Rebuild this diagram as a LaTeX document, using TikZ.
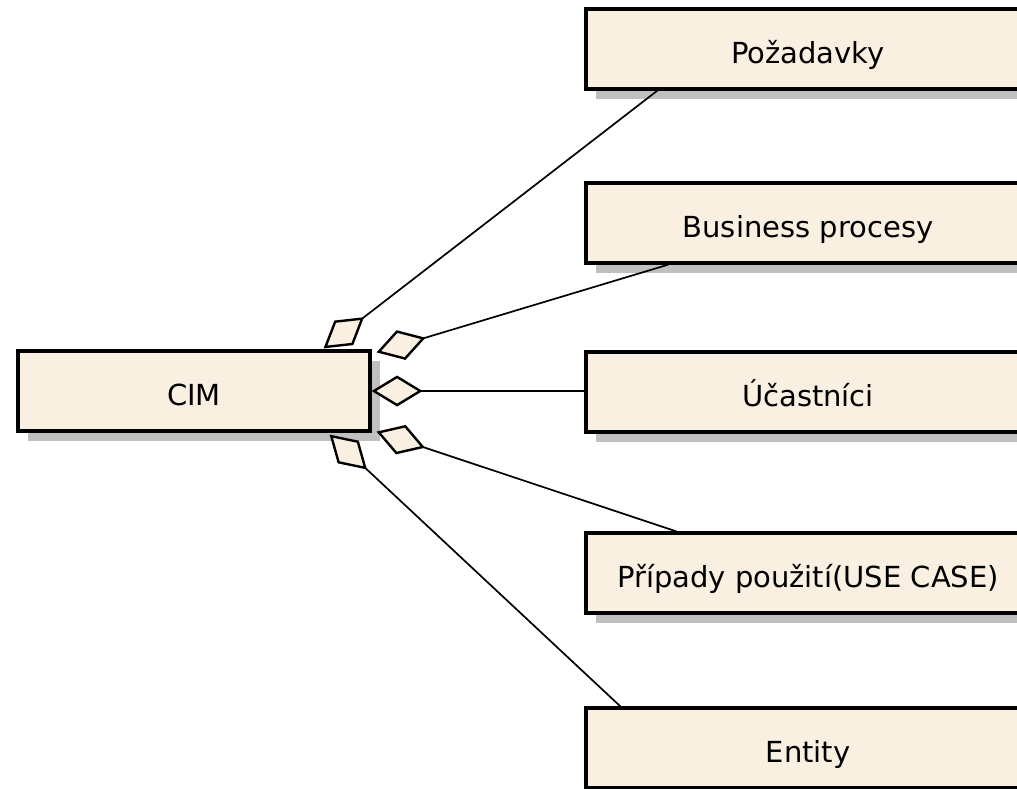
\documentclass[tikz,border=0pt]{standalone}
\usepackage{fontspec}
\setmainfont{DejaVu Sans}
\usetikzlibrary{arrows.meta,calc,shadows}
\definecolor{cream}{RGB}{250,240,226}
\definecolor{shadowgray}{RGB}{192,192,192}
\tikzset{
  classbox/.style={rectangle, draw=black, line width=3.2pt, fill=cream,
    inner sep=0pt, minimum height=80pt, text height=29pt, text depth=0pt,
    general shadow={fill=shadowgray, draw=none, shadow xshift=10pt, shadow yshift=-10pt},
    font=\fontsize{29}{34}\selectfont},
  partbox/.style={classbox, minimum width=444pt},
  agg/.style={draw=black, line width=1.7pt,
    {Diamond[length=51pt, width=31pt, fill=cream, line width=2.4pt]}-}
}
\begin{document}
\begin{tikzpicture}[x=1pt, y=-1pt]
  \useasboundingbox (0,0) rectangle (1017,789);
  \clip (0,0) rectangle (1017,789);

  % whole and its parts
  \node[classbox, minimum width=352pt] (cim) at (194,391) {CIM};
  \node[partbox] (req) at (808,49)  {Požadavky};
  \node[partbox] (bp)  at (808,223) {Business procesy};
  \node[partbox] (uc)  at (808,392) {Účastníci};
  \node[partbox] (puc) at (808,573) {Případy použití(USE CASE)};
  \node[partbox] (ent) at (808,748) {Entity};

  % aggregation connectors, diamond at the whole
  \draw[agg] ($(cim.north east)+(-48,-1)$) -- ($(req.south west)+(73,0)$);
  \draw[agg] ($(cim.north east)+(5,3)$)    -- ($(bp.south west)+(84,0)$);
  \draw[agg] (cim.east)                    -- (cim.east -| uc.west);
  \draw[agg] ($(cim.south east)+(5,-1)$)   -- ($(puc.north west)+(92,0)$);
  \draw[agg] ($(cim.south east)+(-42,2)$)  -- ($(ent.north west)+(36,0)$);
\end{tikzpicture}
\end{document}
